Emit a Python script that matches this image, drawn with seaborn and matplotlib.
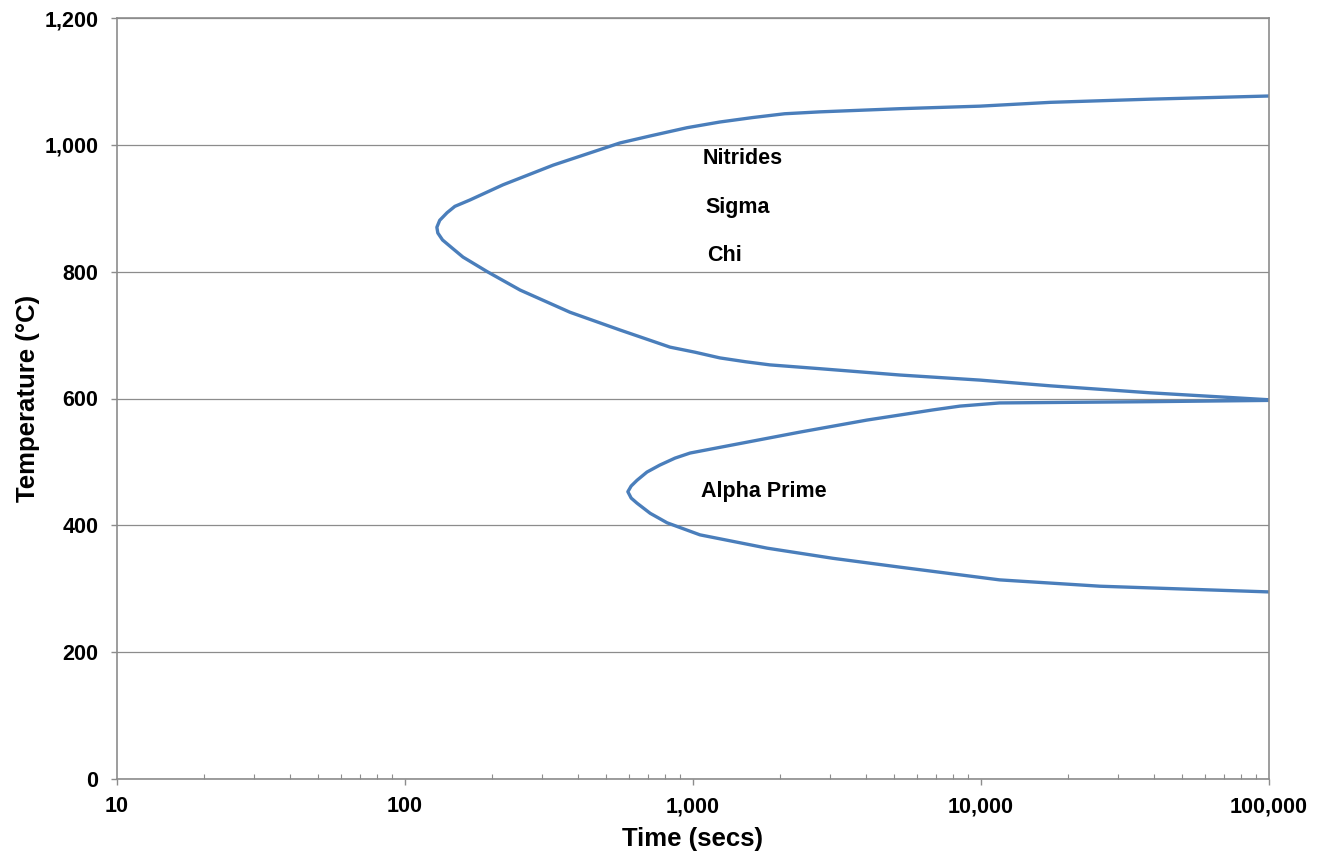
import numpy as np
import pandas as pd
import matplotlib
matplotlib.use("Agg")
import matplotlib.pyplot as plt
import matplotlib.ticker as mticker
import seaborn as sns

# --- Data ---
# Upper C-curve (Nitrides / Sigma / Chi), traced from top-right round the nose back to the right
upper_time = [100000, 38600, 17400, 9930, 5240, 2760, 2080, 1610, 1240, 953, 710, 558, 327,
              219, 168, 149, 140, 132, 129, 130, 135, 146, 159, 193, 251, 374, 558, 832,
              1016, 1240, 1520, 1850, 2760, 5240, 9930, 17400, 38600, 100000]
upper_temp = [1077, 1072, 1067, 1061, 1057, 1052, 1049, 1043, 1036, 1027, 1014, 1003, 968,
              937, 913, 903, 893, 881, 870, 861, 850, 837, 823, 800, 771, 736, 708, 681,
              673, 664, 658, 653, 647, 637, 629, 620, 609, 598]
# Lower C-curve (Alpha Prime)
lower_time = [100000, 38600, 11600, 8450, 6810, 4020, 2350, 1380, 977, 866, 767, 692, 639,
              610, 594, 610, 639, 710, 813, 1057, 1810, 3060, 5240, 11600, 25900, 100000]
lower_temp = [597, 595, 593, 588, 582, 566, 547, 527, 514, 506, 495, 484, 471,
              462, 453, 443, 435, 419, 404, 385, 364, 348, 334, 314, 304, 295]

labels = ["Nitrides", "Sigma", "Chi", "Alpha Prime"]
label_time = [1084, 1101, 1122, 1064]
label_temp = [970, 892, 817, 445]

x_ticks = [10, 100, 1000, 10000, 100000]
y_ticks = [0, 200, 400, 600, 800, 1000, 1200]

# --- Build tidy frame ---
df = pd.concat([
    pd.DataFrame({"time": upper_time, "temp": upper_temp, "curve": "upper"}),
    pd.DataFrame({"time": lower_time, "temp": lower_temp, "curve": "lower"}),
], ignore_index=True)

sns.set_theme(style="white")
plt.rcParams["font.family"] = ["Liberation Sans", "DejaVu Sans"]
plt.rcParams["font.weight"] = "bold"

fig = plt.figure(figsize=(13.21, 8.52), dpi=100)
ax = fig.add_axes([117 / 1321, 1 - 779 / 852, (1269 - 117) / 1321, (779 - 18) / 852])

line_color = "#4a7ebb"
for name in ["upper", "lower"]:
    sub = df[df["curve"] == name]
    sns.lineplot(data=sub, x="time", y="temp", sort=False, estimator=None,
                 color=line_color, linewidth=2.4, ax=ax, legend=False)
for l in ax.lines:
    l.set_solid_joinstyle("round")
    l.set_solid_capstyle("round")

ax.set_xscale("log")
ax.set_xlim(x_ticks[0], x_ticks[-1])
ax.set_ylim(y_ticks[0], y_ticks[-1])
ax.set_xticks(x_ticks)
ax.set_yticks(y_ticks)
fmt = mticker.FuncFormatter(lambda v, p: f"{v:,.0f}")
ax.xaxis.set_major_formatter(fmt)
ax.yaxis.set_major_formatter(fmt)
ax.xaxis.set_minor_locator(mticker.LogLocator(base=10, subs=np.arange(2, 10)))
ax.xaxis.set_minor_formatter(mticker.NullFormatter())

grid_c = "#8c8c8c"
ax.grid(axis="y", which="major", color=grid_c, linewidth=0.9)
ax.grid(axis="x", visible=False, which="both")
ax.set_axisbelow(True)
for side in ["left", "bottom", "right", "top"]:
    ax.spines[side].set_visible(True)
    ax.spines[side].set_color(grid_c)
    ax.spines[side].set_linewidth(1.2)

ax.tick_params(axis="x", which="major", direction="out", length=4.5, width=1.0,
               color=grid_c, pad=8, labelsize=15.5, bottom=True)
ax.tick_params(axis="x", which="minor", direction="in", length=3.6, width=0.8,
               color=grid_c, bottom=True)
ax.tick_params(axis="y", which="major", direction="out", length=4.5, width=1.0,
               color=grid_c, pad=9, labelsize=15.5, left=True)
for lab in ax.get_xticklabels() + ax.get_yticklabels():
    lab.set_fontweight("bold")
    lab.set_color("black")

ax.set_xlabel("Time (secs)", fontsize=18.5, fontweight="bold", color="black", labelpad=7)
ax.set_ylabel("Temperature (°C)", fontsize=18.5, fontweight="bold", color="black", labelpad=3)

for txt, tx, ty in zip(labels, label_time, label_temp):
    ax.text(tx, ty, txt, fontsize=15.5, fontweight="bold", color="black",
            ha="left", va="baseline")

fig.savefig("out.png", dpi=100, facecolor="white")
